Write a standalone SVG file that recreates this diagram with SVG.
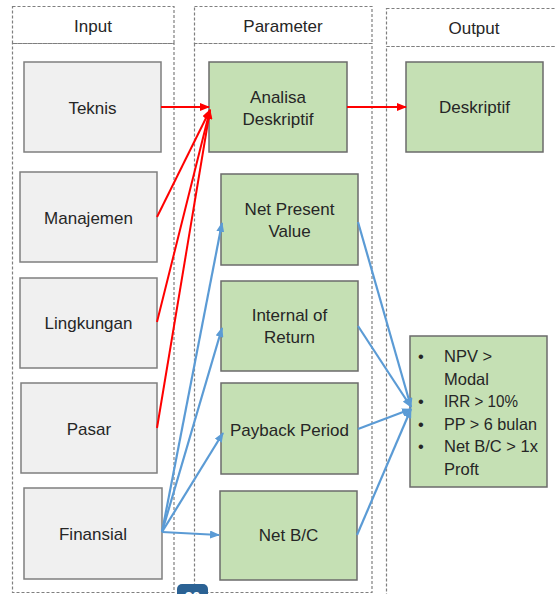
<svg xmlns="http://www.w3.org/2000/svg" width="555" height="594" viewBox="0 0 555 594">
<style>
.lane{fill:none;stroke:#7f7f7f;stroke-width:1.2;stroke-dasharray:3 2}
.gray{fill:#f0f0f0;stroke:#7f7f7f;stroke-width:1.5}
.green{fill:#c5e0b4;stroke:#6b6b6b;stroke-width:1.5}
text{font-family:"Liberation Sans",Arial,sans-serif;font-size:17px;fill:#262626;text-anchor:middle}
.hdr{font-size:17px}
.crit{text-anchor:start;font-size:16.5px}
.red{fill:none;stroke:#ff0000;stroke-width:2}
.blue{fill:none;stroke:#5b9bd5;stroke-width:2.2}
</style>
<defs>
<marker id="ar" markerUnits="userSpaceOnUse" markerWidth="10" markerHeight="8" refX="9" refY="4" orient="auto"><path d="M0,0 L10,4 L0,8 Z" fill="#ff0000"/></marker>
<marker id="ab" markerUnits="userSpaceOnUse" markerWidth="10" markerHeight="8" refX="9" refY="4" orient="auto"><path d="M0,0 L10,4 L0,8 Z" fill="#5b9bd5"/></marker>
</defs>
<rect width="555" height="594" fill="#ffffff"/>
<g id="lanes">
<rect class="lane" x="12.5" y="6.5" width="161.5" height="37"/>
<rect class="lane" x="12.5" y="43.5" width="161.5" height="549"/>
<rect class="lane" x="194.5" y="6.5" width="177.5" height="37"/>
<rect class="lane" x="194.5" y="43.5" width="177.5" height="549"/>
<rect class="lane" x="386.5" y="8.5" width="180" height="38"/>
<rect class="lane" x="386.5" y="46.5" width="180" height="560"/>
<text class="hdr" x="93" y="32">Input</text>
<text class="hdr" x="283" y="32">Parameter</text>
<text class="hdr" x="474" y="34">Output</text>
</g>
<g id="teknis"><rect class="gray" x="24" y="62" width="137" height="90"/><text x="92.5" y="114">Teknis</text></g>
<g id="manajemen"><rect class="gray" x="20" y="172" width="137" height="90"/><text x="88.5" y="224">Manajemen</text></g>
<g id="lingkungan"><rect class="gray" x="20" y="278" width="137" height="90"/><text x="88.5" y="329">Lingkungan</text></g>
<g id="pasar"><rect class="gray" x="21" y="383" width="136" height="90"/><text x="89" y="435">Pasar</text></g>
<g id="finansial"><rect class="gray" x="24" y="488" width="138" height="91"/><text x="93" y="540">Finansial</text></g>
<g id="analisa"><rect class="green" x="209" y="62" width="138" height="90"/><text x="278" y="103">Analisa</text><text x="278" y="125">Deskriptif</text></g>
<g id="npv"><rect class="green" x="221" y="174" width="137" height="91"/><text x="289.5" y="215">Net Present</text><text x="289.5" y="237">Value</text></g>
<g id="irr"><rect class="green" x="221" y="281" width="137" height="90"/><text x="289.5" y="321">Internal of</text><text x="289.5" y="343">Return</text></g>
<g id="pp"><rect class="green" x="221" y="383" width="137" height="91"/><text x="289.5" y="436">Payback Period</text></g>
<g id="netbc"><rect class="green" x="220" y="491" width="137" height="89"/><text x="288.5" y="541">Net B/C</text></g>
<g id="deskriptif"><rect class="green" x="406" y="62" width="137" height="90"/><text x="474.5" y="113">Deskriptif</text></g>
<g id="kriteria"><rect class="green" x="410" y="336" width="137" height="151"/>
<text class="crit" x="418" y="362">•</text><text class="crit" x="444" y="362">NPV &gt;</text>
<text class="crit" x="444" y="384.5">Modal</text>
<text class="crit" x="418" y="407">•</text><text class="crit" x="444" y="407" textLength="74" lengthAdjust="spacingAndGlyphs">IRR &gt; 10%</text>
<text class="crit" x="418" y="429.5">•</text><text class="crit" x="444" y="429.5" textLength="93" lengthAdjust="spacingAndGlyphs">PP &gt; 6 bulan</text>
<text class="crit" x="418" y="452">•</text><text class="crit" x="444" y="452" textLength="94" lengthAdjust="spacingAndGlyphs">Net B/C &gt; 1x</text>
<text class="crit" x="444" y="474.5">Proft</text>
</g>
<g id="connectors">
<line class="red" x1="161" y1="107" x2="209" y2="107" marker-end="url(#ar)"/>
<line class="red" x1="157" y1="217" x2="210" y2="110" marker-end="url(#ar)"/>
<line class="red" x1="157" y1="322" x2="210" y2="110" marker-end="url(#ar)"/>
<line class="red" x1="157" y1="428" x2="210" y2="110" marker-end="url(#ar)"/>
<line class="red" x1="347" y1="107" x2="406" y2="107" marker-end="url(#ar)"/>
<line class="blue" x1="162" y1="532" x2="222" y2="223" marker-end="url(#ab)"/>
<line class="blue" x1="162" y1="532" x2="222" y2="328" marker-end="url(#ab)"/>
<line class="blue" x1="162" y1="532" x2="223" y2="433" marker-end="url(#ab)"/>
<line class="blue" x1="162" y1="532" x2="219" y2="535" marker-end="url(#ab)"/>
<line class="blue" x1="358" y1="222" x2="411" y2="407" marker-end="url(#ab)"/>
<line class="blue" x1="358" y1="326" x2="411" y2="407" marker-end="url(#ab)"/>
<line class="blue" x1="358" y1="429" x2="411" y2="409" marker-end="url(#ab)"/>
<line class="blue" x1="357" y1="535" x2="411" y2="409" marker-end="url(#ab)"/>
</g>
<g id="badge"><rect x="177" y="584" width="31" height="22" rx="5" fill="#2b6294"/><text x="192.5" y="602" style="font-size:14px;fill:#ffffff;font-weight:bold">20</text></g>
</svg>
